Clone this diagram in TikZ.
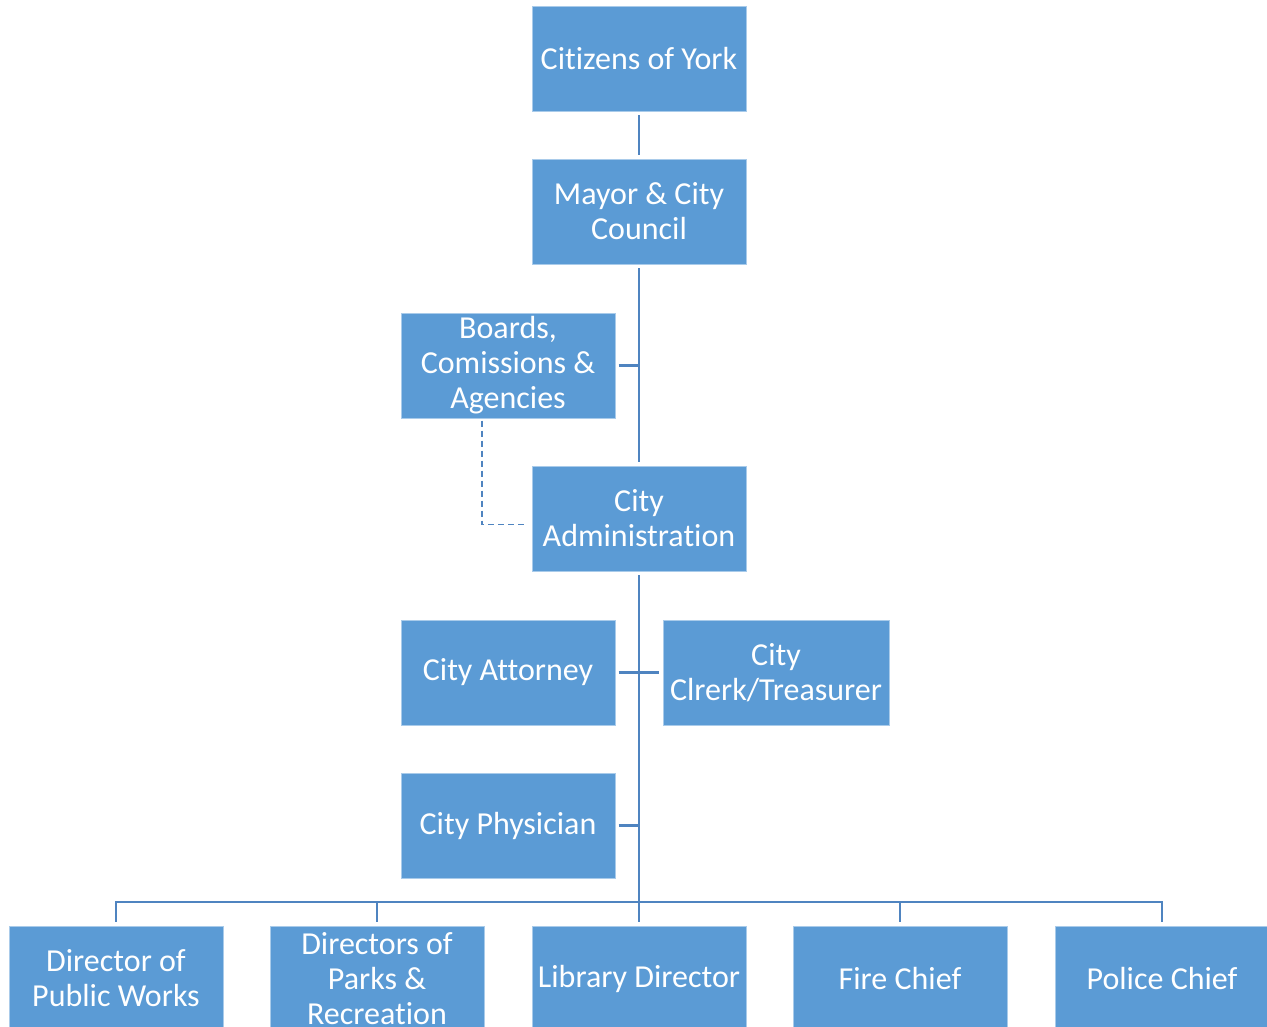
\documentclass[tikz,border=0pt]{standalone}
\usepackage{fontspec}
\setmainfont[Ligatures=CommonOff]{Carlito}
\definecolor{boxfill}{HTML}{5B9BD5}
\definecolor{boxedge}{HTML}{A9CBEA}
\definecolor{linecol}{HTML}{4F84C0}
\begin{document}
\begin{tikzpicture}[x=0.75pt,y=-0.75pt,
  box/.style={draw=boxedge, line width=0.6pt, fill=boxfill, text=white,
    minimum width=160.5pt, minimum height=78.75pt, inner sep=0pt,
    align=center, font=\fontsize{24}{26.3}\selectfont},
  conn/.style={draw=linecol, line width=2pt},
  dashconn/.style={draw=linecol, line width=1.2pt, dash pattern=on 4.5pt off 3pt}]
\useasboundingbox (0,0) rectangle (1267,1027);
\node[box] (cit) at (639,58.5) {Citizens of York};
\node[box] (may) at (639,211.5) {Mayor \& City\\Council};
\node[box] (brd) at (508,365.5) {Boards,\\Comissions \&\\Agencies};
\node[box] (adm) at (639,518.5) {City\\Administration};
\node[box] (att) at (508,672.5) {City Attorney};
\node[box, minimum width=169.5pt] (clk) at (776,672.5) {City\\Clrerk/Treasurer};
\node[box] (phy) at (508,825.5) {City Physician};
\node[box] (b1) at (116,978.5) {Director of\\Public Works};
\node[box] (b2) at (377,978.5) {Directors of\\Parks \&\\Recreation};
\node[box] (b3) at (639,978.5) {Library Director};
\node[box] (b4) at (900,978.5) {Fire Chief};
\node[box] (b5) at (1162,978.5) {Police Chief};
\coordinate (bus) at (639,902);
\coordinate (dsh) at (482,418);
% connectors
\draw[conn, shorten <=3pt, shorten >=3pt] (cit.south) -- (may.north);
\draw[conn, shorten <=3pt, shorten >=3pt] (may.south) -- (adm.north);
\draw[conn, shorten <=2.5pt] (brd.east) -- (brd.east -| may.south);
\draw[dashconn, shorten <=2pt, shorten >=3pt] (dsh) |- ([yshift=-4.5pt]adm.west);
\draw[conn, shorten <=3pt] (adm.south) -- (bus);
\draw[conn, shorten <=2.5pt, shorten >=2.5pt] (att.east) -- (clk.west);
\draw[conn, shorten <=2.5pt] (phy.east) -- (phy.east -| bus);
\draw[conn] ([yshift=3pt]b1.north) |- (bus) -| ([yshift=3pt]b5.north);
\draw[conn] ([yshift=3pt]b2.north) -- (b2.north |- bus);
\draw[conn] ([yshift=3pt]b3.north) -- (b3.north |- bus);
\draw[conn] ([yshift=3pt]b4.north) -- (b4.north |- bus);
\end{tikzpicture}
\end{document}
